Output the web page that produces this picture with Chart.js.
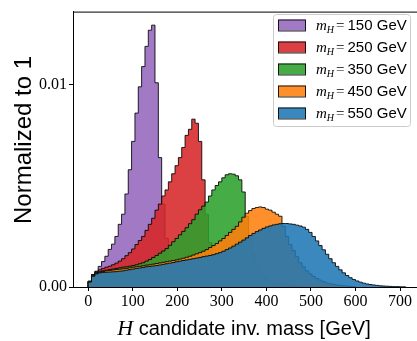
<!DOCTYPE html>
<html>
<head>
<meta charset="utf-8">
<script src="https://cdn.jsdelivr.net/npm/chart.js@4.4.0/dist/chart.umd.min.js"></script>
<style>
  html, body { margin: 0; padding: 0; background: #fff; }
  #wrap { width: 417px; height: 341px; }
</style>
</head>
<body>
<div id="wrap"><canvas id="massChart" width="417" height="341"></canvas></div>
<script>
// Higgs mass hypotheses in GeV
const massPoints = [150, 250, 350, 450, 550];

// binning of the histograms (GeV)
const binWidth = 7.5;

// bin contents (normalized to unit area), first bin starts at 0 GeV
const mh150 = [0.00028, 0.00062, 0.00078, 0.00102, 0.00126, 0.00152, 0.00186, 0.00212, 0.0025, 0.0031,
  0.0036, 0.0046, 0.0058, 0.0072, 0.0086, 0.0099, 0.0109, 0.0119, 0.0127, 0.01295,
  0.0101, 0.0064, 0.0041, 0.0024, 0.0013, 0.0008, 0.0005, 0.0004, 0.0003, 0.00028,
  0.00025, 0.00022, 0.0002, 0.00018, 0.00016, 0.00014, 0.00012, 0.0001, 0.00008, 0.00006, 0.00004];
const mh250 = [0.00028, 0.0006, 0.00075, 0.00085, 0.00092, 0.00098, 0.00103, 0.0011, 0.00118, 0.00128,
  0.0014, 0.00155, 0.0017, 0.00188, 0.0021, 0.0023, 0.0025, 0.0028, 0.0031, 0.0034,
  0.0038, 0.0041, 0.0045, 0.0048, 0.0052, 0.0056, 0.006, 0.0064, 0.0069, 0.0075,
  0.0078, 0.0083, 0.0081, 0.0072, 0.0053, 0.0036, 0.0022, 0.0013, 0.0008, 0.0005,
  0.0004, 0.0003, 0.00025, 0.0002, 0.00018, 0.00015, 0.00012, 0.0001, 0.00008, 0.00006, 0.00004, 0.00002];
const mh350 = [0.00028, 0.00058, 0.0007, 0.00075, 0.0008, 0.00083, 0.00086, 0.00089, 0.00092, 0.00095,
  0.00098, 0.001, 0.00103, 0.00106, 0.0011, 0.00115, 0.0012, 0.00128, 0.00136, 0.00146,
  0.00156, 0.00167, 0.00178, 0.0019, 0.00206, 0.00224, 0.0024, 0.00258, 0.00275, 0.00293,
  0.00313, 0.00333, 0.0036, 0.00382, 0.004, 0.0042, 0.0045, 0.0048, 0.00502, 0.0052,
  0.0054, 0.00555, 0.0056, 0.00558, 0.0055, 0.0053, 0.0047, 0.0035, 0.0024, 0.0016,
  0.001, 0.0007, 0.0005, 0.0004, 0.0003, 0.00025, 0.0002, 0.00017, 0.00014, 0.00011,
  0.00009, 0.00007, 0.00005, 0.00003, 0.00002];
const mh450 = [0.00028, 0.00058, 0.00068, 0.00073, 0.00077, 0.0008, 0.00082, 0.00084, 0.00086, 0.00088,
  0.0009, 0.00092, 0.00095, 0.00098, 0.001, 0.00102, 0.00105, 0.00108, 0.0011, 0.00113,
  0.00116, 0.00119, 0.00122, 0.00125, 0.00128, 0.00131, 0.00134, 0.00138, 0.00142, 0.00147,
  0.00152, 0.00158, 0.00164, 0.0017, 0.00177, 0.00185, 0.00195, 0.00205, 0.00215, 0.00228,
  0.0024, 0.00255, 0.0027, 0.00285, 0.003, 0.00322, 0.00345, 0.00365, 0.00378, 0.00388,
  0.00393, 0.00396, 0.00393, 0.00385, 0.0038, 0.0037, 0.0036, 0.0035, 0.003, 0.0025,
  0.0021, 0.0018, 0.0015, 0.0012, 0.001, 0.0008, 0.00065, 0.00052, 0.00042, 0.00034,
  0.00027, 0.0002, 0.00016, 0.00013, 0.0001, 0.00008, 0.00006, 0.00005, 0.00003, 0.00002];
const mh550 = [0.00024, 0.00053, 0.00065, 0.0007, 0.00072, 0.00073, 0.00074, 0.00075, 0.00076, 0.00078,
  0.0008, 0.00083, 0.00086, 0.00089, 0.00092, 0.00094, 0.00097, 0.001, 0.00102, 0.00104,
  0.00106, 0.00109, 0.00112, 0.00115, 0.00118, 0.00121, 0.00125, 0.00128, 0.00131, 0.00134,
  0.00137, 0.0014, 0.00143, 0.00146, 0.0015, 0.00153, 0.00156, 0.0016, 0.00165, 0.0017,
  0.00177, 0.00185, 0.00193, 0.00202, 0.00212, 0.00222, 0.00232, 0.00243, 0.00255, 0.00265,
  0.00274, 0.00282, 0.0029, 0.00297, 0.00302, 0.00307, 0.0031, 0.00313, 0.00314, 0.00314,
  0.00312, 0.0031, 0.00306, 0.00302, 0.00296, 0.00285, 0.0027, 0.0025, 0.00228, 0.00205,
  0.00184, 0.00162, 0.0014, 0.0012, 0.00102, 0.00085, 0.0007, 0.00057, 0.00046, 0.00037,
  0.0003, 0.00024, 0.00019, 0.00015, 0.00012, 0.0001, 0.00008, 0.00006, 0.00005, 0.00004,
  0.00003, 0.00002, 0.00002, 0.00001, 0.00001];

const xTicks = [0, 100, 200, 300, 400, 500, 600, 700];
const yTicks = [0, 0.01];

const seriesValues = [mh150, mh250, mh350, mh450, mh550];
const seriesColors = ["148, 103, 189", "214, 39, 40", "44, 160, 44", "255, 127, 14", "31, 119, 180"];

const serif = '"Liberation Serif", "DejaVu Serif", serif';
const sans = '"Liberation Sans", "DejaVu Sans", sans-serif';

// turn bin contents into step points: left edge of every bin, closing at the last right edge
function histPoints(values) {
    const pts = [{ x: 0, y: 0 }];
    values.forEach(function (v, i) {
        pts.push({ x: i * binWidth, y: v });
    });
    pts.push({ x: values.length * binWidth, y: 0 });
    return pts;
}

const datasets = seriesValues.map(function (vals, i) {
    return {
        label: "m_H = " + massPoints[i] + " GeV",
        data: histPoints(vals),
        stepped: "before",
        fill: "origin",
        backgroundColor: "rgba(" + seriesColors[i] + ", 0.88)",
        borderColor: "rgba(0, 0, 0, 0.85)",
        borderWidth: 1,
        pointRadius: 0,
        // later mass points are painted on top
        order: seriesValues.length - i,
    };
});

const decorations = {
    id: "decorations",
    afterDraw(chart) {
        const ctx = chart.ctx;
        const area = chart.chartArea;
        ctx.save();

        // top spine
        ctx.strokeStyle = "#000";
        ctx.lineWidth = 1;
        ctx.beginPath();
        ctx.moveTo(area.left, area.top + 0.5);
        ctx.lineTo(area.right, area.top + 0.5);
        ctx.stroke();

        ctx.fillStyle = "#000";

        // y axis title
        ctx.save();
        ctx.translate(31, 140);
        ctx.rotate(-Math.PI / 2);
        ctx.font = "24px " + sans;
        ctx.textAlign = "center";
        ctx.textBaseline = "alphabetic";
        ctx.fillText("Normalized to 1", 0, 0);
        ctx.restore();

        // x axis title: italic H then plain text
        ctx.textBaseline = "alphabetic";
        ctx.textAlign = "left";
        const hFont = "italic 22px " + serif;
        const restFont = "20px " + sans;
        const rest = " candidate inv. mass [GeV]";
        ctx.font = hFont;
        const wH = ctx.measureText("H").width;
        ctx.font = restFont;
        const wRest = ctx.measureText(rest).width;
        let x0 = 244 - (wH + wRest) / 2;
        ctx.font = hFont;
        ctx.fillText("H", x0, 335);
        ctx.font = restFont;
        ctx.fillText(rest, x0 + wH, 335);

        // legend
        const lx = 273, ly = 14, lw = 137, lh = 112;
        ctx.beginPath();
        ctx.roundRect(lx + 0.5, ly + 0.5, lw, lh, 3);
        ctx.fillStyle = "rgba(255, 255, 255, 0.8)";
        ctx.fill();
        ctx.strokeStyle = "#cccccc";
        ctx.stroke();

        massPoints.forEach(function (m, i) {
            const cy = 25 + 22 * i;
            ctx.fillStyle = "rgba(" + seriesColors[i] + ", 0.88)";
            ctx.fillRect(278, cy - 5.5, 28, 11);
            ctx.strokeStyle = "rgba(0, 0, 0, 0.85)";
            ctx.strokeRect(278.5, cy - 5, 27, 11);

            ctx.fillStyle = "#000";
            let tx = 316;
            const base = cy + 5;
            ctx.font = "italic 15px " + serif;
            ctx.fillText("m", tx, base);
            tx += ctx.measureText("m").width;
            ctx.font = "italic 10px " + serif;
            ctx.fillText("H", tx, base + 3);
            tx += ctx.measureText("H").width + 2;
            ctx.font = "15px " + serif;
            ctx.fillText("=", tx, base);
            tx += ctx.measureText("=").width + 3;
            ctx.font = "15px " + sans;
            ctx.fillText(m + " GeV", tx, base);
        });

        ctx.restore();
    },
};

const ctx = document.getElementById("massChart").getContext("2d");

const massChart = new Chart(ctx, {
    type: "line",
    data: { datasets: datasets },
    options: {
        responsive: false,
        animation: false,
        devicePixelRatio: 1,
        layout: { padding: { top: 5, right: 0, left: 0, bottom: 0 } },
        plugins: {
            legend: { display: false },
            tooltip: { enabled: false },
        },
        scales: {
            x: {
                type: "linear",
                min: -34,
                max: 738,
                afterBuildTicks: function (scale) {
                    scale.ticks = xTicks.map(function (v) { return { value: v }; });
                },
                afterFit: function (scale) { scale.height = 54; },
                ticks: {
                    font: { family: serif, size: 16 },
                    color: "#000",
                    padding: 1,
                    maxRotation: 0,
                    autoSkip: false,
                },
                grid: { drawOnChartArea: false, tickLength: 4, tickColor: "#000" },
                border: { display: true, color: "#000", width: 1 },
            },
            y: {
                min: 0,
                max: 0.01362,
                afterBuildTicks: function (scale) {
                    scale.ticks = yTicks.map(function (v) { return { value: v }; });
                },
                afterFit: function (scale) { scale.width = 73; },
                ticks: {
                    font: { family: serif, size: 16 },
                    color: "#000",
                    padding: 2,
                    callback: function (v) { return v.toFixed(2); },
                },
                grid: { drawOnChartArea: false, tickLength: 4, tickColor: "#000" },
                border: { display: true, color: "#000", width: 1 },
            },
        },
    },
    plugins: [decorations],
});
</script>
</body>
</html>
